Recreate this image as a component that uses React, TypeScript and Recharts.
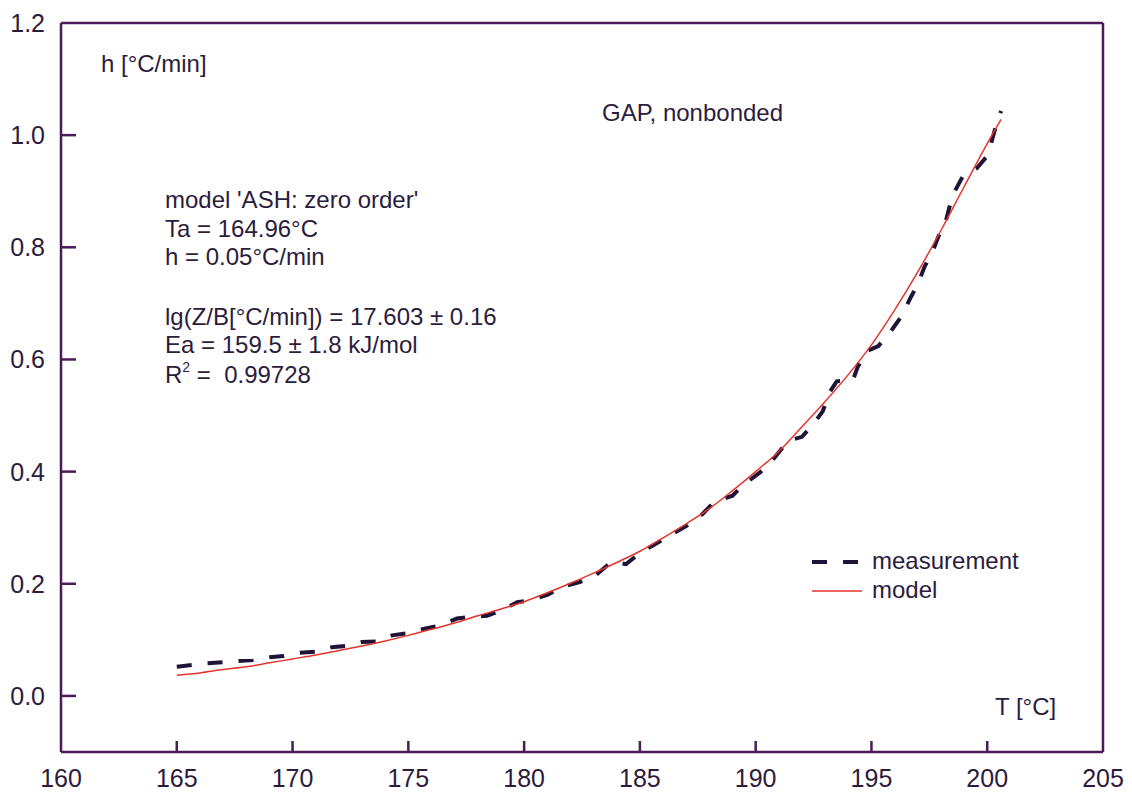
import { LineChart, Line, XAxis, YAxis, ReferenceLine, Legend } from "recharts"

// axis ticks
const xTicks = [160, 165, 170, 175, 180, 185, 190, 195, 200, 205]
const yTicks = [0, 0.2, 0.4, 0.6, 0.8, 1.0, 1.2]

// measured heating rate h [°C/min] vs T [°C]
const measurementT = [
  165.0, 166.3, 167.0, 167.6, 168.3, 169.0, 169.6, 170.3, 171.0, 171.7, 172.3, 173.0, 173.6,
  174.3, 175.0, 175.7, 176.3, 177.1, 177.7, 178.4, 179.0, 179.7, 180.3, 181.0, 181.7, 182.4,
  183.0, 183.8, 184.4, 185.1, 185.6, 186.4, 187.0, 187.7, 188.2, 189.0, 189.4, 190.2, 190.7,
  191.4, 192.0, 192.5, 192.9, 193.2, 193.5, 194.2, 194.4, 194.8, 195.3, 195.9, 196.3, 196.7,
  197.0, 197.3, 197.6, 197.9, 198.2, 198.4, 198.6, 198.95, 199.55, 200.0, 200.2, 200.4, 200.6,
]
const measurementH = [
  0.052, 0.058, 0.060, 0.062, 0.064, 0.069, 0.071, 0.077, 0.079, 0.087, 0.089, 0.096, 0.097,
  0.108, 0.112, 0.120, 0.125, 0.138, 0.141, 0.143, 0.152, 0.167, 0.171, 0.180, 0.195, 0.203,
  0.212, 0.240, 0.235, 0.258, 0.269, 0.289, 0.303, 0.324, 0.346, 0.357, 0.374, 0.399, 0.419,
  0.455, 0.462, 0.485, 0.508, 0.542, 0.561, 0.563, 0.586, 0.615, 0.624, 0.654, 0.677, 0.711,
  0.734, 0.766, 0.788, 0.820, 0.845, 0.877, 0.900, 0.927, 0.941, 0.963, 0.990, 1.020, 1.043,
]

// fitted model
const modelT = [
  165, 166, 167, 168, 169, 170, 171, 172, 173, 174, 175, 176, 177, 178, 179, 180, 181, 182,
  183, 184, 185, 186, 187, 188, 189, 190, 191, 192, 193, 194, 195, 196, 197, 198, 199, 200, 200.6,
]
const modelH = [
  0.037, 0.041, 0.047, 0.052, 0.059, 0.066, 0.073, 0.081, 0.089, 0.098, 0.108, 0.119, 0.130,
  0.143, 0.155, 0.168, 0.184, 0.201, 0.219, 0.238, 0.258, 0.282, 0.307, 0.334, 0.366, 0.400,
  0.436, 0.480, 0.525, 0.573, 0.626, 0.688, 0.756, 0.830, 0.908, 0.985, 1.028,
]

const measurement = measurementT.map((T, i) => ({ T, h: measurementH[i] }))
const model = modelT.map((T, i) => ({ T, h: modelH[i] }))

const FONT = "'Liberation Sans', Arial, sans-serif"
const AXIS = "#4b1a58"
const TEXT = "#2c1c3c"
const DASH = "#1f1437"
const RED = "#e4352b"

const X_MARGIN = 18
const Y_MARGIN = 16

function XTick(props: any) {
  const { x, y, payload } = props
  const v = payload.value
  const axisY = y - X_MARGIN
  return (
    <g>
      {v > 160 && v < 205 && (
        <line x1={x} x2={x} y1={axisY} y2={axisY - 11} stroke={AXIS} strokeWidth={2.5} />
      )}
      <text x={x} y={y} dy={17} textAnchor="middle" fontSize={25} fill={TEXT} fontFamily={FONT}>
        {v}
      </text>
    </g>
  )
}

function YTick(props: any) {
  const { x, y, payload } = props
  const v = payload.value
  const axisX = x + Y_MARGIN
  return (
    <g>
      {v < 1.1 && <line x1={axisX} x2={axisX + 15} y1={y} y2={y} stroke={AXIS} strokeWidth={2.5} />}
      <text x={x} y={y} dy={9} textAnchor="end" fontSize={25} fill={TEXT} fontFamily={FONT}>
        {v.toFixed(1)}
      </text>
    </g>
  )
}

function LegendBox(props: any) {
  const items = props.payload || []
  return (
    <svg width={240} height={64} style={{ fontFamily: FONT }}>
      {items.map((it: any, i: number) => {
        const cy = 17 + i * 29
        const dashed = it.value === "measurement"
        return (
          <g key={it.value}>
            {dashed ? (
              <line x1={12} x2={58} y1={cy} y2={cy} stroke={it.color} strokeWidth={4} strokeDasharray="15 16" />
            ) : (
              <line x1={12} x2={62} y1={cy} y2={cy} stroke={it.color} strokeWidth={1.5} />
            )}
            <text x={72} y={cy + 7} fontSize={24} fill={TEXT}>
              {it.value}
            </text>
          </g>
        )
      })}
    </svg>
  )
}

export default function App() {
  const t = { fontSize: 24, fill: TEXT }
  return (
    <div style={{ position: "absolute", left: 0, top: 0, width: 1132, height: 792, background: "#fff" }}>
      <LineChart width={1132} height={792} margin={{ top: 23, right: 29, bottom: 0, left: 0 }}>
        <XAxis
          dataKey="T"
          type="number"
          domain={[160, 205]}
          ticks={xTicks}
          allowDataOverflow
          height={40}
          stroke={AXIS}
          strokeWidth={2.5}
          tickSize={0}
          tickMargin={X_MARGIN}
          tick={<XTick />}
          interval={0}
        />
        <YAxis
          type="number"
          domain={[-0.1, 1.2]}
          ticks={yTicks}
          allowDataOverflow
          width={61}
          stroke={AXIS}
          strokeWidth={2.5}
          tickSize={0}
          tickMargin={Y_MARGIN}
          tick={<YTick />}
          interval={0}
        />
        <ReferenceLine y={1.2} stroke={AXIS} strokeWidth={2.5} />
        <ReferenceLine x={205} stroke={AXIS} strokeWidth={2.5} />
        <Line
          data={measurement}
          dataKey="h"
          name="measurement"
          type="linear"
          stroke={DASH}
          strokeWidth={4}
          strokeDasharray="15 16"
          dot={false}
          isAnimationActive={false}
        />
        <Line
          data={model}
          dataKey="h"
          name="model"
          type="monotone"
          stroke={RED}
          strokeWidth={1.5}
          dot={false}
          isAnimationActive={false}
        />
        <Legend
          layout="vertical"
          align="center"
          verticalAlign="middle"
          content={<LegendBox />}
          wrapperStyle={{ left: 800, top: 545, width: 240, height: 64 }}
        />
      </LineChart>
      <svg
        width={1132}
        height={792}
        style={{ position: "absolute", left: 0, top: 0, pointerEvents: "none", fontFamily: FONT }}
      >
        <text x={101} y={72} {...t}>h [°C/min]</text>
        <text x={602} y={121} {...t}>GAP, nonbonded</text>
        <text x={995} y={715} {...t}>T [°C]</text>
        <text x={165} y={208} {...t}>model 'ASH: zero order'</text>
        <text x={165} y={237} {...t}>Ta = 164.96°C</text>
        <text x={165} y={265} {...t}>h = 0.05°C/min</text>
        <text x={165} y={325} {...t}>lg(Z/B[°C/min]) = 17.603 ± 0.16</text>
        <text x={165} y={353} {...t}>Ea = 159.5 ± 1.8 kJ/mol</text>
        <text x={165} y={383} {...t} style={{ whiteSpace: "pre" }}>
          R<tspan fontSize={14} dy={-11}>2</tspan>
          <tspan dy={11}> =  0.99728</tspan>
        </text>
      </svg>
    </div>
  )
}
